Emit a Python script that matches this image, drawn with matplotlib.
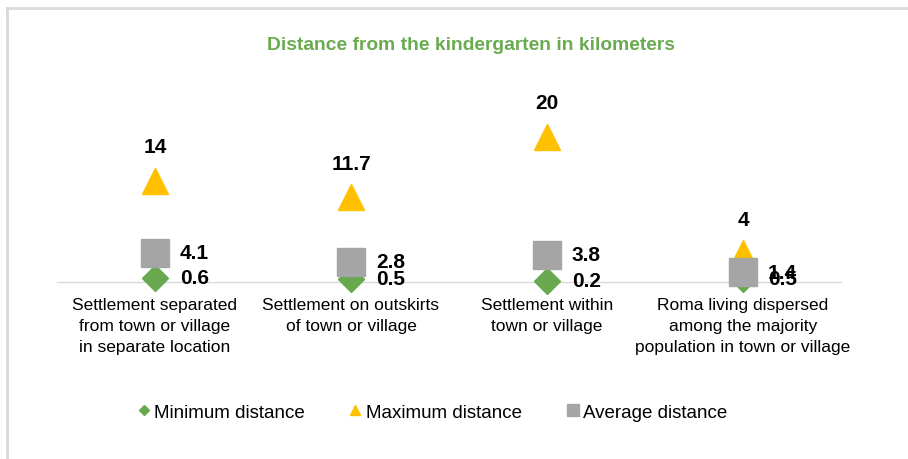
import matplotlib
matplotlib.use('Agg')
import matplotlib.pyplot as plt
from matplotlib.lines import Line2D

plt.rcParams['font.family'] = ['Liberation Sans', 'DejaVu Sans']

# 数据
categories = [
    'Settlement separated\nfrom town or village\nin separate location',
    'Settlement on outskirts\nof town or village',
    'Settlement within\ntown or village',
    'Roma living dispersed\namong the majority\npopulation in town or village',
]
min_distance = [0.6, 0.5, 0.2, 0.5]
max_distance = [14, 11.7, 20, 4]
avg_distance = [4.1, 2.8, 3.8, 1.4]
series_names = ['Minimum distance', 'Maximum distance', 'Average distance']

green = '#68A84F'
gold = '#FFC000'
grey = '#A5A5A5'
title_green = '#6AAB50'

fig = plt.figure(figsize=(9.08, 4.6), dpi=100)

# 外框（上边和左边的浅灰线）
fig.add_artist(Line2D([6.5 / 908, 1], [1 - 8.5 / 460, 1 - 8.5 / 460],
                      color='#D9D9D9', linewidth=2))
fig.add_artist(Line2D([6.5 / 908, 6.5 / 908], [0, 1 - 8.5 / 460],
                      color='#D9D9D9', linewidth=2))

ax = fig.add_axes([57 / 908, 176.7 / 460, 784 / 908, 181.7 / 460])
x = list(range(len(categories)))

ax.plot(x, min_distance, linestyle='none', marker='D', markersize=13.4,
        color=green, zorder=3, clip_on=False)
ax.plot(x, max_distance, linestyle='none', marker='^', markersize=19,
        color=gold, zorder=4, clip_on=False)
ax.plot(x, avg_distance, linestyle='none', marker='s', markersize=20,
        color=grey, zorder=5, clip_on=False)

# 数据标签
for i in x:
    ax.annotate(f'{max_distance[i]:g}', (i, max_distance[i]), xytext=(0, 24.5),
                textcoords='offset points', ha='center', va='center',
                fontsize=15, fontweight='bold', zorder=6)
    ax.annotate(f'{avg_distance[i]:g}', (i, avg_distance[i]), xytext=(18, 0),
                textcoords='offset points', ha='left', va='center',
                fontsize=15, fontweight='bold', zorder=6)
    ax.annotate(f'{min_distance[i]:g}', (i, min_distance[i]), xytext=(18, 0),
                textcoords='offset points', ha='left', va='center',
                fontsize=15, fontweight='bold', zorder=6)

ax.set_xlim(-0.5, 3.5)
ax.set_ylim(0, 25)
for side in ['top', 'right', 'left']:
    ax.spines[side].set_visible(False)
ax.spines['bottom'].set_color('#D9D9D9')
ax.spines['bottom'].set_linewidth(1)
ax.spines['bottom'].set_zorder(1)
ax.set_yticks([])
ax.set_xticks(x)
ax.set_xticklabels(categories, fontsize=12.5, linespacing=1.5)
ax.tick_params(axis='x', length=0, pad=10.5)
ax.patch.set_alpha(0)

fig.text(471 / 908, 1 - 45 / 460, 'Distance from the kindergarten in kilometers',
         ha='center', va='center', fontsize=13.9, fontweight='bold',
         color=title_green)

handles = [
    Line2D([], [], linestyle='none', marker='D', markersize=5.6, color=green),
    Line2D([], [], linestyle='none', marker='^', markersize=7.5, color=gold),
    Line2D([], [], linestyle='none', marker='s', markersize=8, color=grey),
]
fig.legend(handles, series_names, loc='center', ncol=3,
           bbox_to_anchor=(432 / 908, 1 - 413 / 460), frameon=False,
           fontsize=13.5, handlelength=0.7, handletextpad=0.19,
           columnspacing=2.37)

fig.savefig('out.png', dpi=100)
